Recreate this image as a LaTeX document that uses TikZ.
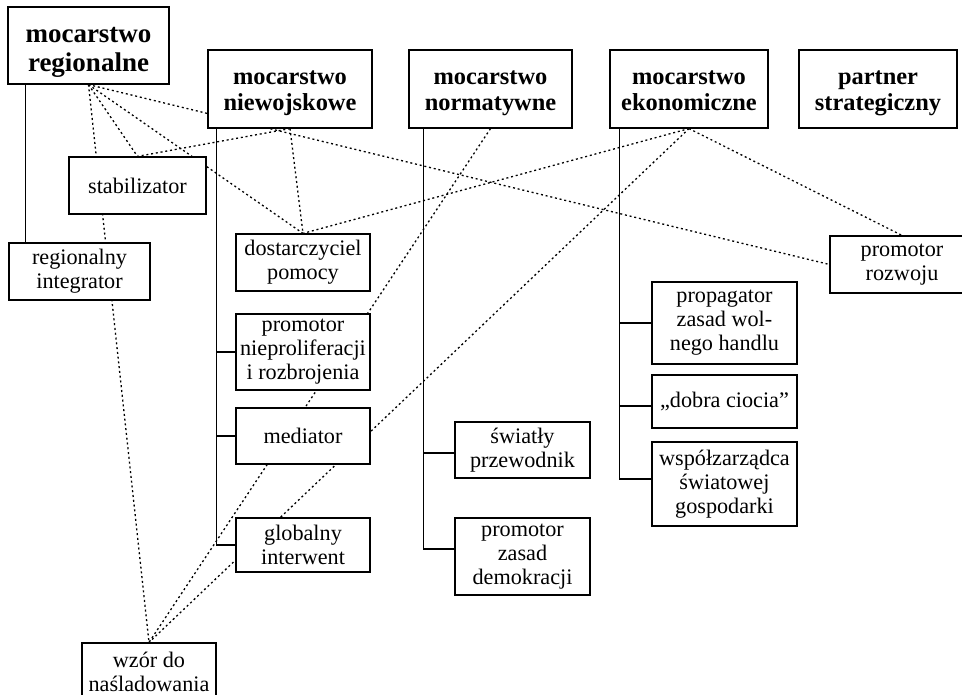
\documentclass[tikz,border=0pt]{standalone}
\usepackage{fontspec}
\setmainfont{Liberation Serif}
\usetikzlibrary{calc,backgrounds}

\tikzset{
  box/.style={draw, fill=white, align=center, inner sep=0.75pt, line width=1.2pt,
    font=\fontsize{22.2}{24}\selectfont},
  topbox/.style={box, minimum height=78, text height=44pt, text depth=0pt,
    font=\fontsize{24.4}{26}\selectfont\bfseries},
  tree/.style={line width=1.5pt},
  link/.style={line width=1.3pt, dash pattern={on 2pt off 2.8pt}}
}

\begin{document}
\begin{tikzpicture}[x=1pt,y=1pt,yscale=-1,xscale=1]
  \useasboundingbox (0,0) rectangle (962,695);

  % Top row
  \node[topbox, minimum width=161, minimum height=77, text height=53pt,
    font=\fontsize{27}{29}\selectfont\bfseries] (reg) at (88.5,45.5) {mocarstwo\\regionalne};
  \node[topbox, minimum width=164] (niew) at (290,89) {mocarstwo\\niewojskowe};
  \node[topbox, minimum width=163] (norm) at (490.5,89) {mocarstwo\\normatywne};
  \node[topbox, minimum width=158] (ekon) at (689,89) {mocarstwo\\ekonomiczne};
  \node[topbox, minimum width=158] (part) at (878,89) {partner\\strategiczny};

  % Roles
  \node[box, minimum width=137, minimum height=57] (stab) at (137.5,185.5) {stabilizator};
  \node[box, minimum width=141, minimum height=57] (integ) at (79.5,271.5) {regionalny\\integrator};
  \node[box, minimum width=134, minimum height=57] (dost) at (303,262.5) {dostarczyciel\\pomocy};
  \node[box, minimum width=134, minimum height=76] (niepro) at (303,352) {promotor\\nieproliferacji\\i rozbrojenia};
  \node[box, minimum width=134, minimum height=56] (medi) at (303,436) {mediator};
  \node[box, minimum width=134, minimum height=54] (glob) at (303,545) {globalny\\interwent};
  \node[box, minimum width=134, minimum height=57] (wzor) at (149,671.5) {wzór do\\naśladowania};
  \node[box, minimum width=135, minimum height=56] (swia) at (522.5,450) {światły\\przewodnik};
  \node[box, minimum width=135, minimum height=77] (demo) at (522.5,556.5) {promotor\\zasad\\demokracji};
  \node[box, minimum width=145, minimum height=82] (prop) at (724.5,323) {propagator\\zasad wol-\\nego handlu};
  \node[box, minimum width=145, minimum height=53] (ciocia) at (724.5,401.5) {„dobra ciocia”};
  \node[box, minimum width=145, minimum height=84] (wspol) at (724.5,484) {współzarządca\\światowej\\gospodarki};
  \node[box, minimum width=144, minimum height=57] (rozw) at (902,264.5) {promotor\\rozwoju};

  %Straight Lines
  \draw[tree] (reg.south west) ++(18,0) coordinate (r0) -- (r0 |- integ.north);
  \draw[tree] (niew.south west) ++(9,0) coordinate (n0) |- (niepro.west) (n0) |- (medi.west) (n0) |- (glob.west);
  \draw[tree] (norm.south west) ++(15,0) coordinate (m0) |- ($(swia.west)+(0,3)$) (m0) |- ($(demo.west)+(0,-7.5)$);
  \draw[tree] (ekon.south west) ++(10,0) coordinate (e0) |- (prop.west) (e0) |- ($(ciocia.west)+(0,4.5)$) (e0) |- ($(wspol.west)+(0,-5)$);

  %Dotted Lines
  \begin{pgfonlayer}{background}
    \draw[link] (reg.south) -- (wzor.north);
    \draw[link] (reg.south) -- (stab.north);
    \draw[link] (reg.south) -- (dost.north);
    \draw[link] (reg.south) -- (rozw.west);
    \draw[link] (niew.south) -- (stab.north);
    \draw[link] (niew.south) -- (dost.north);
    \draw[link] (norm.south) -- (wzor.north);
    \draw[link] (ekon.south) -- (dost.north);
    \draw[link] (ekon.south) -- (wzor.north);
    \draw[link] (ekon.south) -- (rozw.north);
  \end{pgfonlayer}
\end{tikzpicture}
\end{document}
